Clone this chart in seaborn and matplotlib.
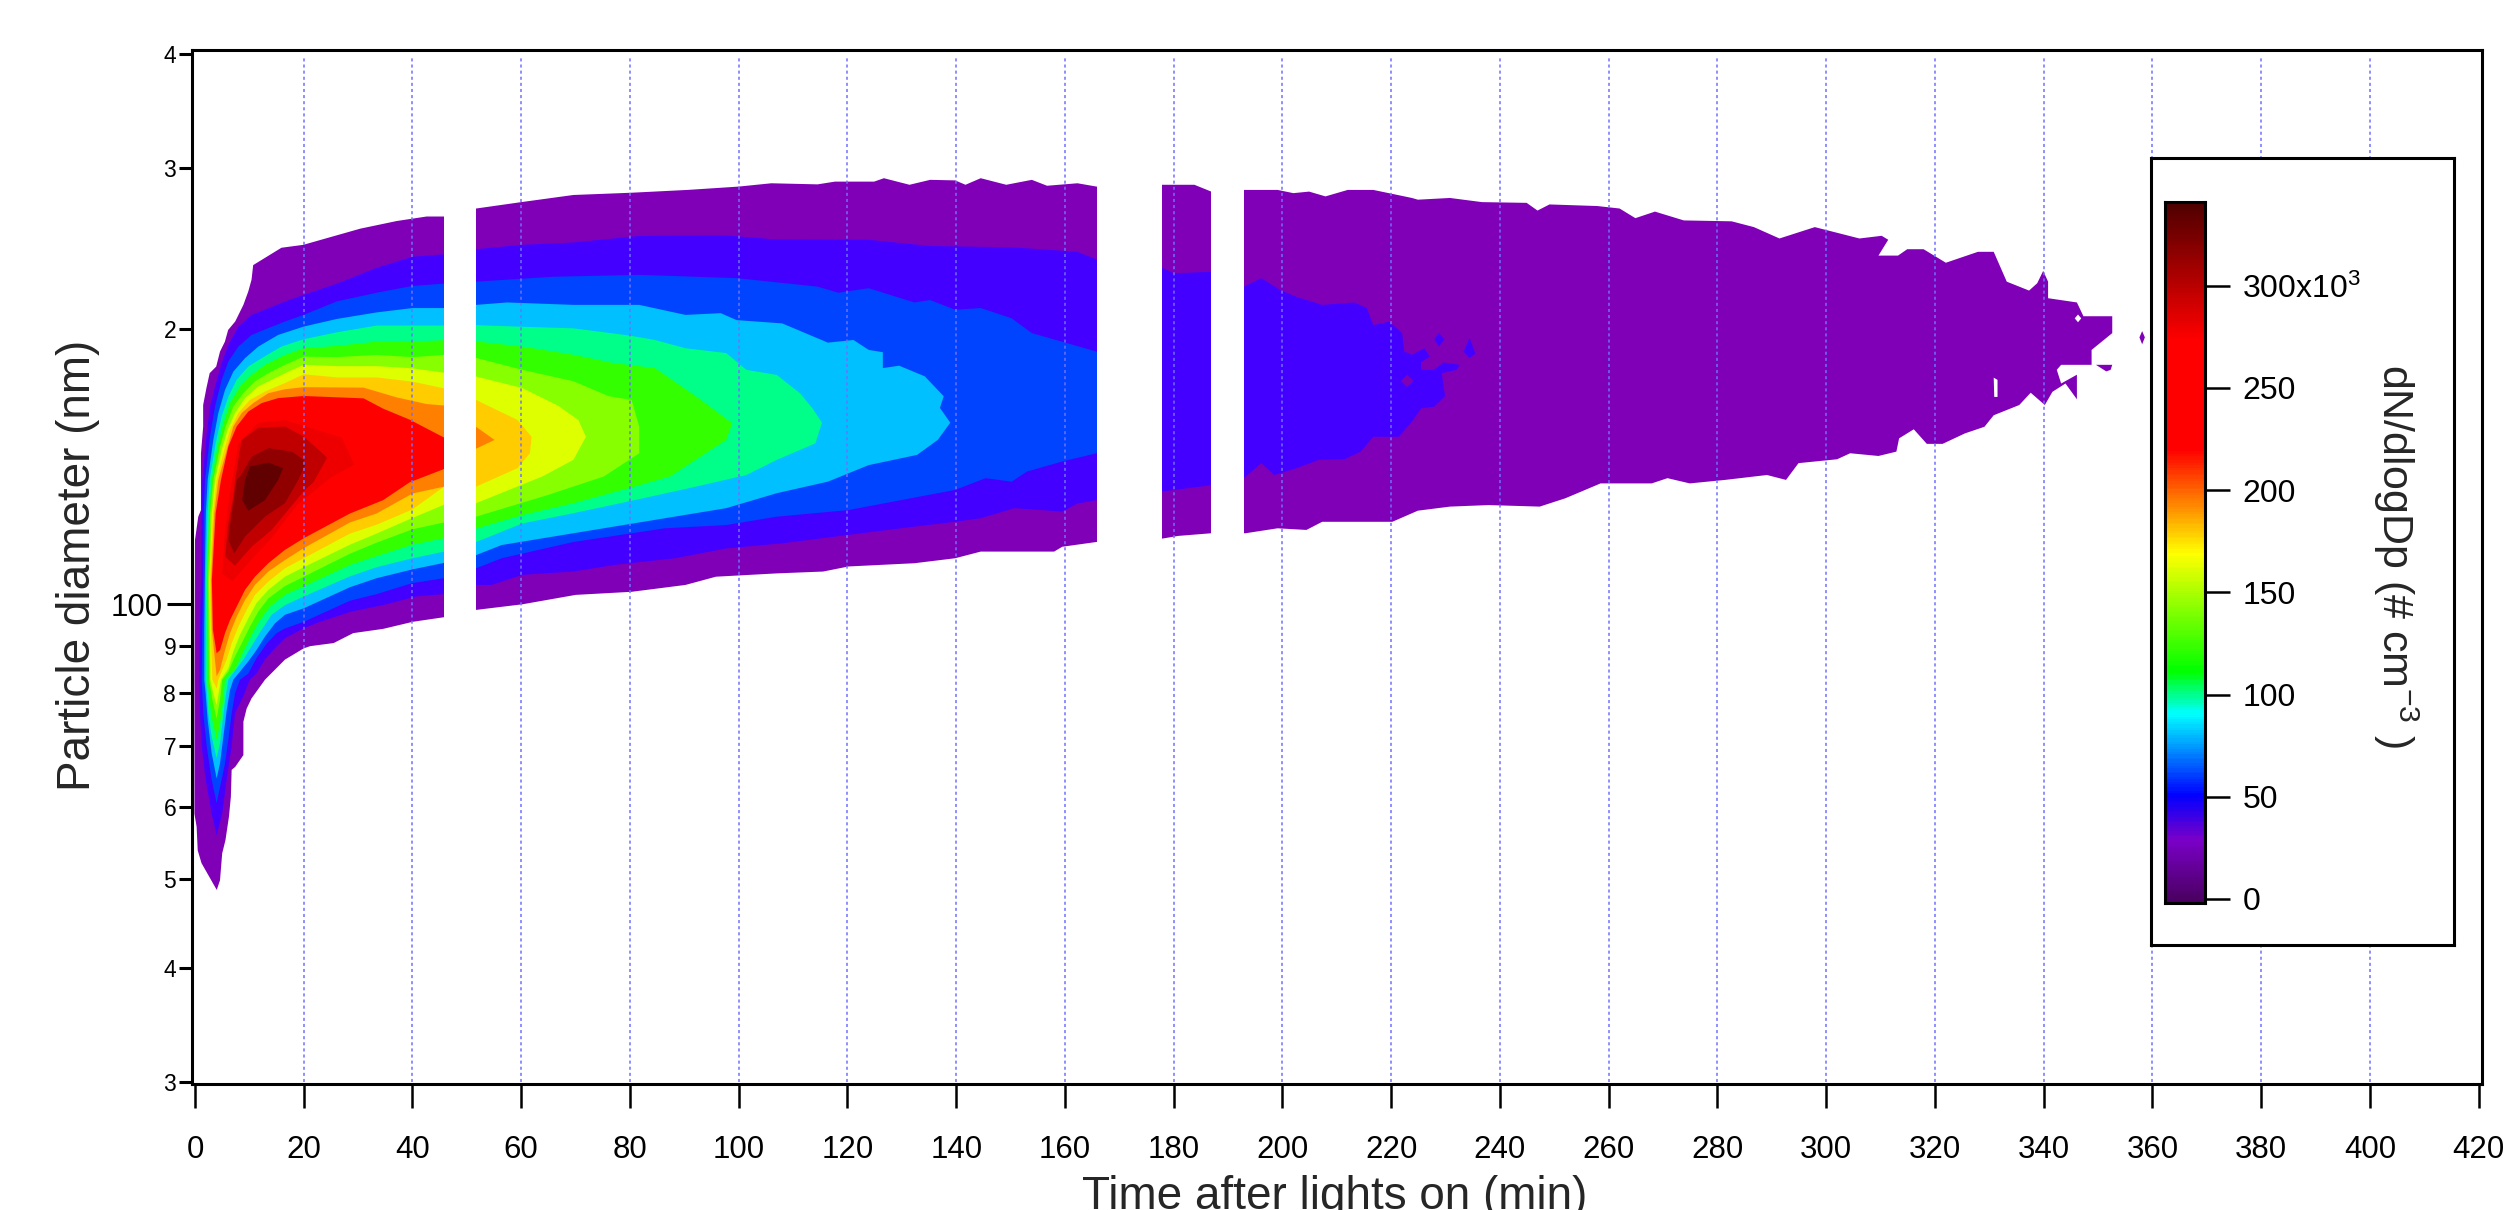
import numpy as np
import matplotlib
matplotlib.use("Agg")
import matplotlib.pyplot as plt
from matplotlib.colors import LinearSegmentedColormap
from matplotlib.ticker import NullLocator
import seaborn as sns

# outlines of each filled contour band
# (time in min, diameter in nm), top edge left to right then bottom edge back
band1_t = [-0.1, 0, 0.6, 1.1, 1.1, 1.5, 1.5, 2.1, 2.7, 3.9, 4.6, 5.5, 6.1, 7.4, 8.9, 9.8, 10.4, 10.7, 15.9, 19.9,
           30.4, 37.1, 42.6, 45.8, 51.7, 60, 69.6, 80.3, 90.6, 100, 106,
           114.5, 117.7, 124.9, 126.7, 131.4, 135.2, 139.8, 141.7, 144.5, 149.2, 153.9, 156.7, 162.3, 165.8,
           177.9, 183.8, 186.9, 192.9, 199.1, 202, 204.9, 207.9, 212, 216.7, 223.8, 224.9, 230.8, 236.7, 244.9, 246.9, 249.1,
           257.9, 262, 264.9, 268.5, 273.8, 282.6, 286.7, 291.4, 297.9, 306.1, 310.2, 311.4, 309.6, 313.2, 314.9, 317.9,
           322, 327.9, 330.8, 333.2, 337.3, 338.8, 339.9, 340.8, 340.8, 346.1, 347.3, 352.6, 352.6, 348.8, 348.8, 343.2,
           342.4, 343.2, 346.1, 346.1, 344, 341.6, 340.2, 337.6, 335.5, 330.8, 329.1, 325.5, 321.4, 318.5, 316.1, 313.4, 312.9,
           309.6, 304.4, 302, 294.9, 292.6, 289.1, 281.4, 274.9, 270.8, 267.9, 258.5, 252, 247.3, 237.9, 230.8, 224.9, 220.2,
           207.3, 204.4, 199.1, 193.2, 186.9, 180.8, 177.9, 165.8, 159.5, 158, 144.5, 139.8, 132.3, 120.2, 115.5, 107, 95.8,
           90.2, 80.3, 70, 60.2, 51.7, 45.8, 40.1, 34.6, 29.1, 25.5, 21.2, 20, 16.55, 12.87, 10.4, 9.5, 8.9, 8.9, 7.4, 6.74,
           6.6, 6.25, 5.6, 5, 4.6, 4, 1.2, 0.5, 0.3, -0.1]
band1_d = [82.7, 117.6, 124.7, 126.8, 146.3, 156.4, 165.2, 172.4, 179, 182, 189, 193.8, 199.6, 203.9, 212.6, 219.9, 226.5, 235, 245.5, 247.3,
           257.6, 262.6, 265.6, 265.6, 271, 275.4, 280.4, 282, 284, 286.4, 288.8,
           288, 290, 290, 292.5, 287.7, 291.3, 290.9, 287.7, 292.5, 287.7, 291.3, 287, 288.8, 286.4,
           287.7, 287.7, 282.8, 284, 284, 281.7, 282.8, 279.4, 284, 284, 278.3, 277.1, 278.3, 275.4, 274.9, 269.6, 273.8,
           272.7, 271, 264.5, 268.9, 263, 262.4, 258.6, 251.3, 258.6, 251.3, 253, 250.5, 240.7, 240.7, 244.6, 244.6,
           236.4, 243, 243, 225.4, 220.4, 224.5, 231.6, 225.4, 216.2, 213.9, 206.6, 206.6, 198, 189.8, 182.8, 182.8,
           180.5, 174.4, 178.3, 167.6, 174.4, 170.8, 165.2, 170.4, 165.2, 161, 156.4, 153.8, 149.8, 149.8, 155.4, 151.9, 146.9,
           145.3, 146.3, 144.1, 142.7, 136.8, 138.5, 136.8, 135.6, 137.4, 135.6, 135.6, 130.6, 127.9, 128.4, 127.9, 126.6, 123.1,
           123.1, 120.6, 121.1, 119.6, 119.6, 118.8, 118, 117, 115.6, 114.2, 114.2, 112.3, 110.9, 110, 108.6, 108.1, 107.2,
           105, 103.2, 102.4, 100, 98.6, 96.8, 95.7, 94, 93, 90.7, 90, 89.5, 87, 82.7, 78.9, 76.9, 74.4, 68.4, 66.4, 65.9,
           61.6, 58.6, 55.2, 53.4, 49.9, 48.7, 52.1, 53.8, 57.1, 59]

band2_t = [3.98, 3.07, 1.96, 1.23, 0.92, 0.74, 0.9, 1.1, 1.2, 1.35, 2.15, 2.76, 3.68, 4.9, 6.13, 7.97, 10.42, 13.49, 16.55, 20,
           26.1, 33.4, 40, 45.8, 51.7, 60, 69.6, 81.7, 97.7, 106, 123.9, 135.2, 150.2, 162.3, 165.8,
           178, 180, 187, 192.9, 196.1, 199.6, 202.6, 207.3, 213.2, 215.5, 216.7, 219.6, 222, 222.4, 223.8, 226.1, 227.1, 225.5, 225.5, 227.9, 229.6, 232.6, 232, 229.3, 229.9,
           227.9, 225.5, 223.8, 221.4, 216.7, 214.4, 211.4, 206.7, 202.6, 198.5, 196.1, 192.9, 187, 178, 165.8, 162.3, 159.5, 150.7, 144.5, 139.8, 132.3, 120.2, 108, 97.7,
           88.3, 77, 69.6, 60.2, 54.6, 51.7, 45.8, 40.7, 34.6, 28.5, 22.4, 20, 16.55, 14.7, 12.87, 11.3, 10.1, 8.89, 7.36, 6.74, 5.83, 5]
band2_d = [55.9, 59, 64.3, 69.9, 76, 82.7, 93.8, 106.3, 125.8, 136.8, 153.9, 164.6, 173.1, 183.6, 192.2, 201.3, 207.3, 210.8, 214.4, 218,
           224.3, 233.4, 240, 241.5, 244.6, 247.3, 248.8, 252.9, 253.3, 250.9, 250.5, 246.6, 245.8, 243, 238.4,
           233.2, 230.2, 231.1, 222.6, 227.4, 220.7, 216.9, 212.6, 213.9, 210.9, 202, 203.8, 198, 189, 187.5, 190.6, 186.6, 184.1, 180.5, 180.5, 183.9, 182.8, 180.5, 179, 168.9,
           164.5, 163.8, 158.4, 152.5, 152.5, 146.9, 144.1, 143.9, 140.9, 138.5, 142.7, 137.4, 135, 132.9, 130, 128.9, 126.3, 127.4, 124.2, 123.1, 121.6, 119.1, 116.6, 115.1,
           112.3, 110.4, 108.6, 107.7, 105, 105, 102.6, 102, 99.8, 98.1, 95.4, 94.1, 91.8, 89.5, 87, 84, 82.7, 79.3, 76, 69.9, 64.3, 59]

band3_t = [3.98, 3.07, 2.15, 1.53, 1.23, 1.35, 1.5, 1.6, 1.84, 2.76, 3.68, 4.9, 6.13, 7.97, 10.42, 13.49, 16.55, 20,
           26.1, 33.4, 40, 45.8, 51.7, 65.8, 81.7, 99.6, 114.5, 118.3, 123.9, 132.3, 135.2, 139.8, 144.5, 150.2, 153.9, 165.8, 172,
           165.8, 159.5, 153, 150.2, 145.4, 139.8, 120.2, 107, 97.7, 86.4, 69.6, 56.4, 51.7, 45.8, 40, 33.4, 28.5,
           20, 16.55, 15, 13.2, 11.3, 9.8, 8.28, 7.36, 6.74, 6.13, 5.52, 4.9]
band3_d = [60.6, 64.3, 69.9, 76, 82.7, 93.8, 106.3, 125.8, 136.8, 152.6, 164.6, 176, 184.3, 191.4, 197.1, 200.5, 203.9, 207.3,
           214.5, 219.2, 223, 224.3, 225.4, 228.2, 229.3, 227.4, 222.6, 219.2, 221.7, 213.9, 215.2, 210, 210.9, 205.5, 198, 189, 164,
           146.3, 143.3, 139.7, 136.2, 137.4, 133.4, 126.8, 124.7, 122.1, 121.1, 117, 112.3, 109.5, 106.8, 105.5, 102.6, 100.9,
           95.7, 94.1, 93, 90.6, 87.3, 84, 82.7, 79.9, 76, 71.1, 67, 64.3]

band4_t = [3.98, 3.07, 2.33, 1.96, 1.7, 1.7, 1.8, 2, 2.33, 3.37, 4.29, 5.52, 7.05, 9.2, 11.65, 15.3, 20,
           26.1, 33.4, 40, 45.8, 51.7, 57.4, 69.6, 81.7, 90.2, 96.7, 99.6, 108, 116.4, 121.1, 123.9, 126.5, 126.5, 129.5, 134.2, 137.7, 137, 138.9,
           136.6, 132.8, 123.9, 116.4, 107, 97.7, 86.4, 69.6, 56.4, 51.7, 45.8, 40, 33.4, 28.5,
           20, 16.55, 14.7, 12.87, 11.3, 9.8, 7.05, 6.44, 5.83, 5.21, 4.6]
band4_d = [64.5, 68.7, 74.7, 79.9, 82.7, 93.8, 106.3, 125.8, 136.8, 151.3, 161.9, 171.6, 179.7, 185.9, 191.4, 197.1, 201.3,
           205.2, 208.6, 210.9, 210.9, 212.6, 213.9, 212.6, 212.6, 207.3, 208.2, 204.6, 202.9, 193.3, 194.6, 189.8, 188.7, 181.3, 182.4, 177.6, 168.9, 164, 158,
           151.3, 145.7, 142, 136.2, 132.3, 127.4, 124.2, 119.6, 116.1, 113.2, 111, 109.2, 106.8, 104.4,
           99, 97.4, 95.3, 92.2, 89.1, 86.6, 82.7, 80.6, 76.6, 71.6, 67]

band5_t = [3.98, 3.07, 2.45, 2.15, 1.96, 2, 2, 2.3, 2.7, 3.8, 4.9, 6.13, 7.66, 9.8, 12.26, 15.9, 20,
           26.1, 33.4, 40, 45.8, 51.7, 60.2, 69.6, 79.9, 84.6, 90.2, 97.7, 101.4, 107, 111.3, 113.6, 115.3,
           114.1, 107, 101.4, 92.1, 80.8, 69.6, 60.2, 51.7, 45.8, 40, 33.4, 28.5,
           20, 16.55, 14.1, 12.26, 10.7, 8.89, 6.13, 5.64, 5.1, 4.6]
band5_d = [67.9, 71.6, 76, 80.6, 82.7, 93.8, 106.3, 125.8, 136.8, 150.1, 160.5, 168.7, 176, 182, 185.9, 191.4, 195,
           198.4, 201.8, 201.8, 201.8, 202, 201.2, 200.4, 196.8, 194.6, 190.6, 188.3, 180.5, 178.2, 170.1, 163.7, 158,
           150, 143.9, 138.5, 134.5, 130, 125.8, 122.6, 117, 114.2, 112.3, 109.8, 107.3,
           102, 99.8, 97.4, 93.8, 90.6, 87, 82.7, 79.3, 74.7, 70.5]

band6_t = [3.98, 3.07, 2.57, 2.33, 2.25, 2.2, 2.6, 3.07, 4.17, 5.21, 6.44, 8.28, 10.42, 12.87, 16.55, 20,
           26.1, 33.4, 40, 45.8, 51.7, 60.2, 69.6, 77, 84.6, 92.1, 98.8,
           97.7, 87.4, 80.8, 69.6, 60.2, 51.7, 45.8, 40, 33.4, 28.5,
           20, 16.55, 13.8, 11.96, 10.42, 8.89, 7.36, 5.52, 5.1, 4.6]
band6_d = [71.1, 75.3, 79.3, 82.7, 93.8, 106.3, 125.8, 136.8, 148.8, 157.8, 166, 173.1, 178.2, 182.8, 187.4, 190.6,
           191.7, 193.8, 193.8, 194.5, 193.9, 191.4, 187.5, 183.6, 181.3, 168.9, 157.8,
           151.3, 138, 134.5, 129, 125.2, 121, 118.1, 116.2, 112.9, 110.4,
           104.6, 102.4, 99.4, 96.1, 92.6, 88.8, 84.8, 82.7, 77.9, 74.1]

band7_t = [3.98, 3.2, 2.6, 2.5, 2.4, 2.8, 3.37, 4.6, 5.64, 7.05, 8.89, 11.03, 13.49, 16.55, 20,
           26.1, 33.4, 40, 45.8, 51.7, 60.2, 69.6, 76.1, 80.3, 81.7,
           81.7, 75.2, 64.9, 51.7, 45.8, 40, 33.4, 28.5,
           20, 16.55, 13.49, 11.65, 10.1, 8.58, 7.36, 6.13, 5, 4.6]
band7_d = [75, 78.6, 82.7, 93.8, 106.3, 125.8, 136.8, 148.8, 156.5, 164.6, 170.2, 175.3, 179, 182.8, 186.6,
           186.4, 187.4, 186.4, 187.4, 186, 180.5, 175.4, 168.9, 167.3, 156.4,
           146.3, 138, 131.7, 124.7, 122.9, 120.8, 116.8, 113.6,
           107.2, 104.7, 101.5, 98.2, 94.5, 90.6, 87.7, 84.4, 82.7, 78.6]

band8_t = [3.98, 3.37, 2.8, 2.7, 2.6, 3.1, 3.68, 4.9, 6.01, 7.36, 9.2, 11.65, 14.1, 17.2, 20,
           26.1, 33.4, 40, 45.8, 51.7, 60.2, 66.7, 70.5, 71.9,
           69.6, 63.9, 51.7, 45.8, 40, 33.4, 28.5,
           20, 16.55, 13.49, 11.3, 9.8, 8.28, 7.05, 6.13, 4.78, 4.45]
band8_d = [77.6, 79.9, 82.7, 93.8, 106.3, 125.8, 136.8, 147.5, 155.2, 161.9, 168.1, 173.1, 176, 179.7, 182.8,
           182.2, 182.2, 181.2, 179.2, 177.5, 172.4, 165, 159.1, 152.5,
           143.9, 138, 129, 128.5, 124.3, 119.5, 116.2,
           109.8, 107.2, 103.7, 100.3, 96.5, 92.6, 88.8, 85.1, 82.7, 80.6]

band9_t = [3.98, 3.2, 2.9, 2.75, 3.3, 4, 5.21, 6.44, 7.97, 10.1, 12.87, 16.55, 20,
           26.1, 33.4, 40, 45.8, 51.7, 59.3, 61.9,
           61.6, 59.3, 51.7, 45.8, 40, 33.4, 28.5,
           20, 16.55, 13.49, 11.03, 9.5, 7.97, 6.74, 5.83, 4.29]
band9_d = [80.9, 82.7, 93.8, 106.3, 125.8, 136.8, 146.3, 155.2, 161.9, 167.3, 170.9, 174.6, 178.5,
           177.1, 177.1, 175.2, 172.3, 167.3, 159.1, 152.5,
           146.3, 140.9, 134.5, 134.5, 127, 122.2, 119.5,
           112.3, 109.5, 105.9, 102.4, 98.6, 94.5, 90.6, 87, 82.7]

band10_t = [3.98, 3.1, 2.95, 3.55, 4.29, 5.83, 7.05, 8.58, 10.7, 13.49, 16.55, 20, 31, 37.1, 42.6, 45.8, 51.6, 55.1,
            51.6, 45.8, 40, 33.4, 28.5,
            20, 16.55, 13.49, 11.03, 9.2, 7.66, 6.44, 5.52, 4.6]
band10_d = [83.4, 93.8, 106.3, 125.8, 136.8, 147.5, 156.5, 161.9, 166, 170.2, 171.9, 172.8, 172.6, 168.4, 165.6, 165, 156.5, 151.3,
            147.9, 134.5, 132.2, 125.7, 122.9,
            115.2, 111.8, 108.6, 105, 101.1, 96.9, 93, 89.1, 84.8]

band11_t = [3.98, 3.3, 3.1, 3.8, 4.78, 6.13, 7.66, 9.8, 12.26, 15.3, 20, 31, 34.6, 39.5, 45.8, 45.8, 39.5, 34.6, 28.5,
            20, 16.55, 13.49, 11.03, 9.2, 7.66, 6.44, 5.52, 4.6]
band11_d = [88.4, 93.8, 106.3, 125.8, 136.8, 148.8, 156.5, 162.5, 166, 168.1, 169, 168, 163.7, 159.2, 152.2, 140.6, 136, 130, 125.7,
            118.1, 114.7, 110.9, 107.2, 103.7, 99.4, 96.1, 93, 89.1]

band12_t = [5, 5.5, 6.3, 8, 11.65, 16.55, 27, 29.3, 24.9, 18.8, 14, 10.4, 6.9]
band12_d = [108, 120, 131, 150, 158, 159, 152.2, 142.2, 137.5, 128.5, 118, 112, 106]

band13_t = [5.52, 6.13, 7.05, 7.36, 8.58, 11.65, 16.55, 20, 24.3, 21.8, 20, 14.1, 10.42, 7.36]
band13_d = [112.8, 122.7, 131.2, 136.8, 151.3, 156, 156.5, 152.6, 144.7, 136, 133, 120.6, 115.6, 110.2]

band14_t = [7.24, 6.13, 6.74, 7.66, 8.28, 10.42, 13.49, 17.8, 20, 20.3, 19, 16.55, 12.87, 9.2]
band14_d = [113.7, 117.6, 125.8, 136.8, 138, 145, 148.2, 146.9, 143.9, 142.2, 136.8, 129, 124.7, 118.6]

band15_t = [9.8, 8.7, 9.2, 10.1, 13.49, 16.2, 15.3, 12.87]
band15_d = [126.6, 130, 136.8, 141.5, 142.9, 140.9, 136.8, 130]

# small islands and holes near the fading end
island_a_t = [228.8, 229.8, 228.8, 227.9]
island_a_d = [198, 195, 191.4, 195]
island_b_t = [234.4, 235.5, 234.4, 233.3]
island_b_d = [195.7, 188, 186, 189]
island_c_t = [222.9, 224.1, 222.9, 221.8]
island_c_d = [178.3, 175.5, 172.9, 175.5]
speck_t = [357.6, 358.1, 358.6, 358.1]
speck_d = [195.9, 199, 195.9, 192.5]
shard_t = [349.6, 352.6, 352.3, 351.5]
shard_d = [182.8, 182.8, 180.5, 179.8]
hole_a_t = [330.8, 331.5, 331.5, 330.9]
hole_a_d = [177, 176, 168.6, 168.6]
hole_b_t = [346.3, 346.9, 346.3, 345.7]
hole_b_d = [207.5, 205.5, 203.5, 205.5]

band_colors = ["#8000b8", "#4400ff", "#0044ff", "#00c0ff", "#00ff88", "#33ff00", "#88ff00", "#ddff00",
               "#ffcc00", "#ff8000", "#ff0000", "#ee0000", "#c00000", "#900000", "#600000"]

missing_spans = [(45.8, 51.7), (165.8, 177.9), (186.9, 192.9)]

x_ticks = list(range(0, 421, 20))
grid_times = list(range(20, 401, 20))
y_minor_ticks = [30, 40, 50, 60, 70, 80, 90, 200, 300, 400]
y_minor_labels = ["3", "4", "5", "6", "7", "8", "9", "2", "3", "4"]

cbar_ticks = [0, 50, 100, 150, 200, 250, 300]
cbar_labels = ["0", "50", "100", "150", "200", "250", "300x10$^{3}$"]
cbar_stop_values = [-2, 28, 50, 90, 111, 169, 220, 274, 341]
cbar_stop_colors = ["#4a0060", "#7a00c8", "#0000ff", "#00ffff", "#00ff00", "#ffff00", "#ff0000", "#ff0000", "#4f0000"]

sns.set_style("white")
plt.rcParams["font.family"] = ["Liberation Sans", "DejaVu Sans"]
plt.rcParams["mathtext.default"] = "regular"

W, H = 2507, 1210
fig = plt.figure(figsize=(W / 100, H / 100), dpi=100)
ax = fig.add_axes([192 / W, 1 - 1084 / H, (2482 - 192) / W, (1084 - 50) / H])

outlines = [(band1_t, band1_d), (band2_t, band2_d), (band3_t, band3_d), (band4_t, band4_d), (band5_t, band5_d),
            (band6_t, band6_d), (band7_t, band7_d), (band8_t, band8_d), (band9_t, band9_d), (band10_t, band10_d),
            (band11_t, band11_d), (band12_t, band12_d), (band13_t, band13_d), (band14_t, band14_d), (band15_t, band15_d)]
for (t, d), c in zip(outlines, band_colors):
    ax.fill(t, d, color=c, lw=0, zorder=1)

ax.fill(island_c_t, island_c_d, color=band_colors[0], lw=0, zorder=1.1)
ax.fill(island_a_t, island_a_d, color=band_colors[1], lw=0, zorder=1.1)
ax.fill(island_b_t, island_b_d, color=band_colors[1], lw=0, zorder=1.1)
ax.fill(speck_t, speck_d, color=band_colors[0], lw=0, zorder=1.1)
ax.fill(shard_t, shard_d, color=band_colors[0], lw=0, zorder=1.1)
ax.fill(hole_a_t, hole_a_d, color="white", lw=0, zorder=1.1)
ax.fill(hole_b_t, hole_b_d, color="white", lw=0, zorder=1.1)

# no scans during these periods
for a, b in missing_spans:
    ax.axvspan(a, b, color="white", lw=0, zorder=1.5)

ax.vlines(grid_times, 30, 397, color="#7070ff", lw=1.1, linestyles=(0, (2, 2)), zorder=2)

ax.set_yscale("log")
ax.set_xlim(-0.55, 420.6)
ax.set_ylim(29.87, 404)
ax.set_xticks(x_ticks)
ax.set_xticklabels([str(v) for v in x_ticks], fontsize=22.5)
ax.set_yticks([100], ["100"], fontsize=22.5)
ax.set_yticks(y_minor_ticks, y_minor_labels, minor=True, fontsize=16.5)
ax.tick_params(axis="x", direction="out", length=17, width=1.8, color="black", labelcolor="black", pad=20, bottom=True)
ax.tick_params(axis="y", which="major", direction="out", length=18, width=2.2, color="black", labelcolor="black", pad=3, left=True)
ax.tick_params(axis="y", which="minor", direction="out", length=9.4, width=2.2, color="black", labelcolor="black", pad=2, left=True)
for s in ax.spines.values():
    s.set_visible(True)
    s.set_color("black")
    s.set_linewidth(2.2)

# legend box with the colour scale
box = fig.add_axes([2151 / W, 1 - 945 / H, (2454 - 2151) / W, (945 - 158) / H], zorder=5)
box.set_xticks([])
box.set_yticks([])
box.set_facecolor("white")
for s in box.spines.values():
    s.set_visible(True)
    s.set_color("black")
    s.set_linewidth(2.2)

vmin, vmax = cbar_stop_values[0], cbar_stop_values[-1]
stops = [(v - vmin) / (vmax - vmin) for v in cbar_stop_values]
cmap = LinearSegmentedColormap.from_list("scale", list(zip(stops, cbar_stop_colors)))
cax = fig.add_axes([2165 / W, 1 - 903 / H, (2205 - 2165) / W, (903 - 202) / H], zorder=6)
n_rows = 400
gradient = np.linspace(vmax, vmin, n_rows)[:, None]
sns.heatmap(gradient, cmap=cmap, vmin=vmin, vmax=vmax, cbar=False, ax=cax, xticklabels=False, yticklabels=False)
cax.yaxis.tick_right()
cax.set_yticks([(vmax - v) / (vmax - vmin) * n_rows for v in cbar_ticks])
cax.set_yticklabels(cbar_labels, fontsize=23, rotation=0, color="black")
cax.tick_params(axis="y", right=True, left=False, direction="out", length=18, width=1.8, color="black", pad=9)
for s in cax.spines.values():
    s.set_visible(True)
    s.set_color("black")
    s.set_linewidth(2.2)

fig.text(2396 / W, 1 - 556 / H, "dN/dlogDp (# cm$^{-3}$ )", rotation=270, ha="center", va="center", fontsize=31, zorder=7)
fig.text(78 / W, 1 - 565 / H, "Particle diameter (nm)", rotation=90, ha="center", va="center", fontsize=33)
fig.text(1335 / W, 1 - 1197 / H, "Time after lights on (min)", ha="center", va="center", fontsize=33)

fig.savefig("out.png", dpi=100)
